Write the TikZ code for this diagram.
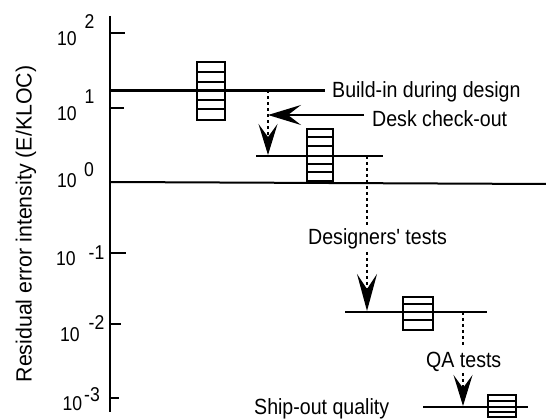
\documentclass[tikz,border=0pt]{standalone}
\usepackage{fontspec}
\setmainfont{Liberation Sans}
\newfontfamily\labfont[FakeStretch=0.89]{Liberation Sans}
\newfontfamily\ylabfont[FakeStretch=0.97]{Liberation Sans}
\newfontfamily\tickfont[FakeStretch=0.88]{Liberation Sans}
\usetikzlibrary{arrows.meta}
\begin{document}
\begin{tikzpicture}[x=1pt,y=-1pt,
  axisline/.style={line width=2pt},
  level/.style={line width=2.4pt},
  boxline/.style={line width=2pt},
  stripe/.style={line width=1.4pt},
  dotline/.style={line width=1.6pt,dash pattern=on 3pt off 3pt},
  tip/.style={-{Stealth[length=31pt,width=19pt,inset=13pt]}},
  longtip/.style={-{Stealth[length=37pt,width=20pt,inset=15pt]}},
  lab/.style={inner sep=0pt,font=\labfont\fontsize{22}{24}\selectfont},
  ticklab/.style={inner sep=0pt,font=\tickfont\fontsize{20}{22}\selectfont}]
\fill[white] (0,0) rectangle (546,419);
\useasboundingbox (0,0) rectangle (546,419);
% axis
\coordinate (axtop) at (110,16);
\coordinate (axbot) at (110,412);
\draw[axisline] (axtop) -- (axbot);
\coordinate (t2a) at (110,33);  \coordinate (t2b) at (125,33);
\coordinate (t1a) at (110,108); \coordinate (t1b) at (124,108);
\coordinate (tm1a) at (110,253); \coordinate (tm1b) at (126,253);
\coordinate (tm2a) at (110,324); \coordinate (tm2b) at (121,324);
\coordinate (tm3a) at (110,398); \coordinate (tm3b) at (119,398);
\draw[axisline] (t2a) -- (t2b);
\draw[axisline] (t1a) -- (t1b);
\draw[axisline] (tm1a) -- (tm1b);
\draw[axisline] (tm2a) -- (tm2b);
\draw[axisline] (tm3a) -- (tm3b);
\coordinate (z0a) at (110,182); \coordinate (z0b) at (546,184);
\draw[axisline] (z0a) -- (z0b);
% tick labels
\node[ticklab] (l2) at (67,38.5) {10};   \node[ticklab] (e2) at (89.5,21.5) {2};
\node[ticklab] (l1) at (67,113.5) {10};  \node[ticklab] (e1) at (89.5,96.5) {1};
\node[ticklab] (l0) at (67,181) {10};    \node[ticklab] (e0) at (89,170) {0};
\node[ticklab] (lm1) at (66,259) {10};   \node[ticklab] (em1) at (96.5,253) {-1};
\node[ticklab] (lm2) at (70,335) {10};   \node[ticklab] (em2) at (96.5,323) {-2};
\node[ticklab] (lm3) at (72.5,404) {10}; \node[ticklab] (em3) at (92,395) {-3};
% y label
\node[inner sep=0pt,rotate=90,font=\ylabfont\fontsize{22}{24}\selectfont] (ylab) at (26,224) {Residual error intensity (E/KLOC)};
% level lines
\coordinate (a1) at (110,90.5); \coordinate (a2) at (325,90.5);
\draw[level] (a1) -- (a2);
\coordinate (b1) at (256,156); \coordinate (b2) at (383,156);
\draw[level] (b1) -- (b2);
\coordinate (c1) at (345,312); \coordinate (c2) at (487,312);
\draw[level] (c1) -- (c2);
\coordinate (d1) at (423,407); \coordinate (d2) at (528,407);
\draw[level] (d1) -- (d2);
% boxes
\draw[boxline,fill=white] (197,62) rectangle (225,120);
\foreach \yy in {72,82,91,100,109} \draw[stripe] (197,\yy) -- (225,\yy);
\draw[level] (197,90.5) -- (225,90.5);
\draw[boxline,fill=white] (307,129) rectangle (333,181);
\foreach \yy in {137,146,164,172} \draw[stripe] (307,\yy) -- (333,\yy);
\draw[level] (307,156) -- (333,156);
\draw[boxline,fill=white] (403,297) rectangle (433,330);
\foreach \yy in {304,320} \draw[stripe] (403,\yy) -- (433,\yy);
\draw[level] (403,312) -- (433,312);
\draw[boxline,fill=white] (488,395) rectangle (516,417);
\foreach \yy in {401,412} \draw[stripe] (488,\yy) -- (516,\yy);
\draw[level] (488,407) -- (516,407);
% labels
\node[lab,anchor=base west] (build) at (332,98) {Build-in during design};
\node[lab,anchor=base west] (desk) at (372,127) {Desk check-out};
\node[lab,anchor=base west] (dtest) at (308,245) {Designers' tests};
\node[lab,anchor=base west] (qa) at (426,368) {QA tests};
\node[lab,anchor=base west] (ship) at (254,414) {Ship-out quality};
% arrows
\coordinate (p1s) at (268,90.5); \coordinate (p1e) at (268,155);
\draw[dotline,tip] (p1s) -- (p1e);
\coordinate (dks) at (364,115); \coordinate (dke) at (268,115);
\draw[line width=2pt,-{Stealth[length=33pt,width=20pt,inset=13pt]}] (dks) -- (dke);
\coordinate (p2s) at (367,156); \coordinate (p2m) at (367,226);
\coordinate (p2n) at (367,252); \coordinate (p2e) at (367,311);
\draw[dotline] (p2s) -- (p2m);
\draw[dotline,longtip] (p2n) -- (p2e);
\coordinate (p3s) at (463,312); \coordinate (p3m) at (463,347);
\coordinate (p3n) at (463,373); \coordinate (p3e) at (463,406);
\draw[dotline] (p3s) -- (p3m);
\draw[dotline,tip] (p3n) -- (p3e);
\end{tikzpicture}
\end{document}
